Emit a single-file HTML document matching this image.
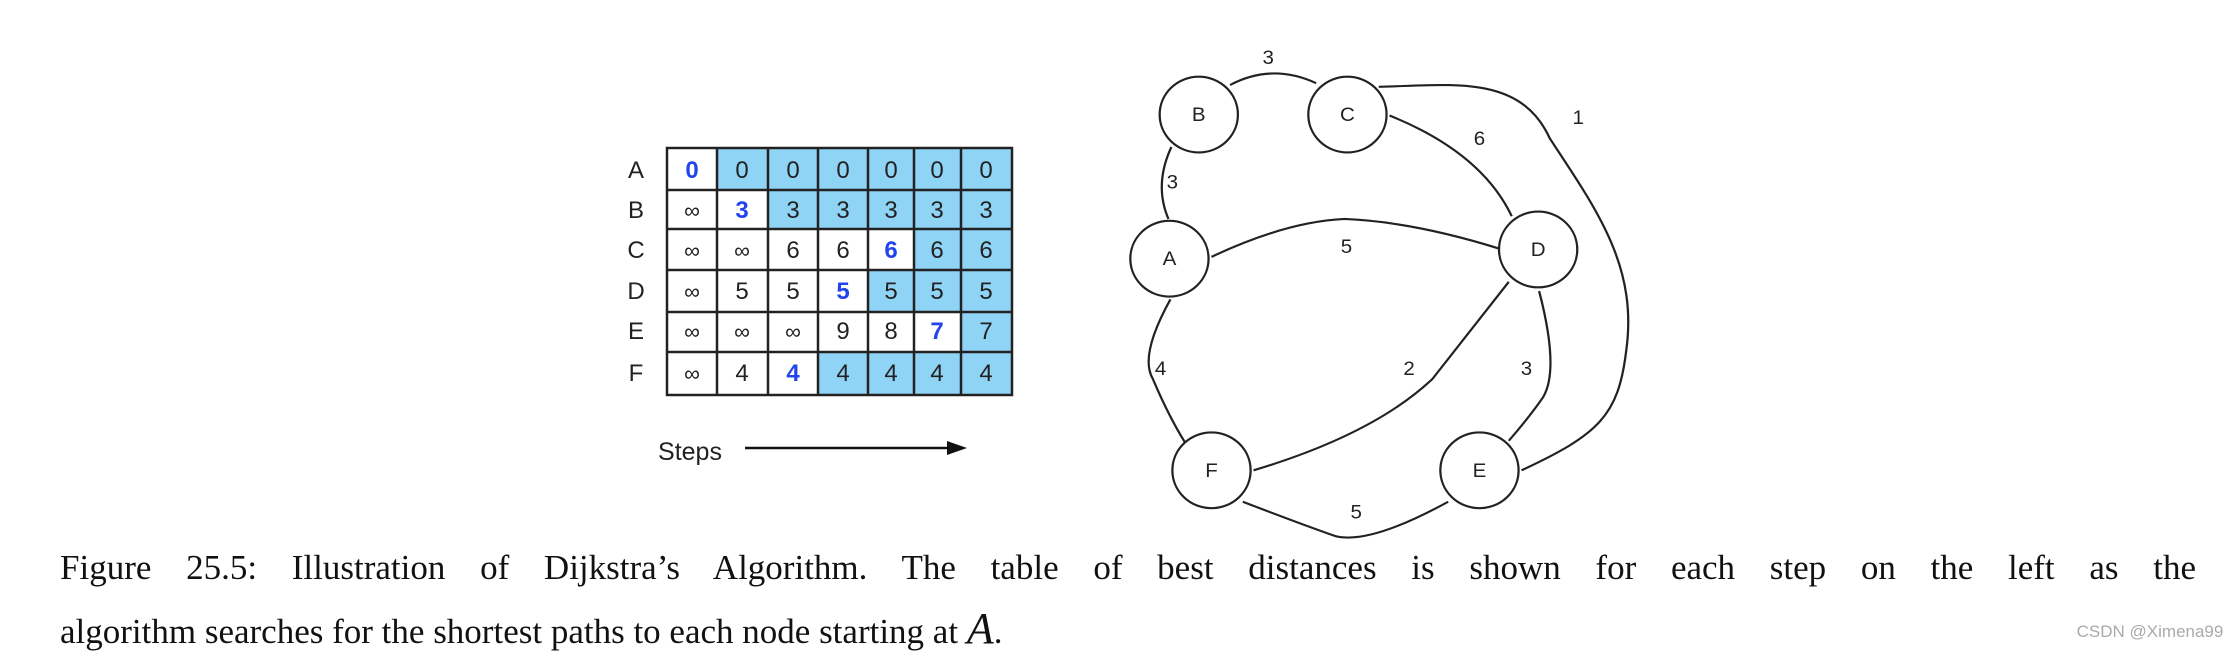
<!DOCTYPE html>
<html><head><style>
body{margin:0;background:#fff;width:2238px;height:660px;overflow:hidden;position:relative;font-family:"Liberation Sans",sans-serif}
.cap{position:absolute;left:60px;width:2136px;font-family:"Liberation Serif",serif;font-size:35px;color:#111;text-align:justify;text-align-last:justify;white-space:nowrap}
</style></head><body>
<svg width="2238" height="660" style="position:absolute;left:0;top:0" font-family="Liberation Sans, sans-serif">
<g fill="#8fd3f5">
<rect x="717" y="148" width="295" height="42"/>
<rect x="768" y="190" width="244" height="39"/>
<rect x="914" y="229" width="98" height="41"/>
<rect x="868" y="270" width="144" height="42"/>
<rect x="961" y="312" width="51" height="40"/>
<rect x="818" y="352" width="194" height="43"/>
</g>
<g stroke="#222" stroke-width="2.5" fill="none">
<rect x="667" y="148" width="345" height="247"/>
<path d="M717 148V395M768 148V395M818 148V395M868 148V395M914 148V395M961 148V395M667 190H1012M667 229H1012M667 270H1012M667 312H1012M667 352H1012"/>
</g>
<g font-size="24" text-anchor="middle" fill="#222">
<text x="636" y="178">A</text><text x="636" y="218">B</text><text x="636" y="258">C</text><text x="636" y="299">D</text><text x="636" y="339">E</text><text x="636" y="381">F</text>
</g>
<g font-size="24" text-anchor="middle" fill="#222" id="t"></g>
<text x="690" y="460" font-size="25" text-anchor="middle" fill="#222">Steps</text>
<line x1="745" y1="448" x2="950" y2="448" stroke="#111" stroke-width="2.5"/>
<polygon points="967,448 947,441 947,455" fill="#111"/>
<g transform="translate(24.2,0) scale(0.978,0.924)">
<g stroke="#222" stroke-width="2.3" fill="none">
<path d="M1233 92 Q1276 68 1321 90"/>
<path d="M1385 94 C1460 92 1530 80 1560 150 C1610 230 1650 290 1638 380 C1630 450 1610 470 1531 509"/>
<path d="M1396 125 Q1490 165 1521 234"/>
<path d="M1173 159 Q1155 200 1170 237"/>
<path d="M1214 278 Q1290 240 1350 237 Q1420 240 1508 269"/>
<path d="M1172 324 Q1140 385 1154 410 Q1170 450 1187 479"/>
<path d="M1518 305 Q1470 370 1440 410 Q1380 470 1257 509"/>
<path d="M1549 315 Q1570 400 1553 430 Q1540 450 1518 477"/>
<path d="M1246 543 Q1300 565 1340 580 Q1375 590 1456 543"/>
<ellipse cx="1201" cy="124" rx="40" ry="41" fill="#fff"/>
<ellipse cx="1353" cy="124" rx="40" ry="41" fill="#fff"/>
<ellipse cx="1171" cy="280" rx="40" ry="41" fill="#fff"/>
<ellipse cx="1548" cy="270" rx="40" ry="41" fill="#fff"/>
<ellipse cx="1214" cy="509" rx="40" ry="41" fill="#fff"/>
<ellipse cx="1488" cy="509" rx="40" ry="41" fill="#fff"/>
</g>
<g font-size="21" text-anchor="middle" fill="#222">
<text x="1201" y="131">B</text><text x="1353" y="131">C</text><text x="1171" y="287">A</text><text x="1548" y="277">D</text><text x="1214" y="516">F</text><text x="1488" y="516">E</text>
</g>
<g font-size="21" text-anchor="middle" fill="#222">
<text x="1272" y="69">3</text><text x="1589" y="134">1</text><text x="1488" y="157">6</text><text x="1174" y="204">3</text><text x="1352" y="274">5</text><text x="1162" y="406">4</text><text x="1416" y="406">2</text><text x="1536" y="406">3</text><text x="1362" y="561">5</text>
</g>
</g>
<text x="2150" y="637" font-size="17" text-anchor="middle" fill="#aaa">CSDN @Ximena99</text>
</svg>
<script>
var rows=[["0","0","0","0","0","0","0"],["∞","3","3","3","3","3","3"],["∞","∞","6","6","6","6","6"],["∞","5","5","5","5","5","5"],["∞","∞","∞","9","8","7","7"],["∞","4","4","4","4","4","4"]];
var blue=[0,1,4,3,5,2];
var cx=[692,742,793,843,891,937,986],ry=[178,218,258,299,339,381];
var g=document.getElementById("t"),s="";
rows.forEach(function(r,i){r.forEach(function(v,j){var b=blue[i]==j;s+='<text x="'+cx[j]+'" y="'+ry[i]+'"'+(b?' fill="#2244ee" font-weight="bold"':'')+(v=="∞"?' font-size="22"':'')+'>'+v+'</text>';});});
g.innerHTML=s;
</script>
<div class="cap" style="top:548px">Figure 25.5: Illustration of Dijkstra’s Algorithm. The table of best distances is shown for each step on the left as the</div>
<div class="cap" style="top:603px;text-align-last:left;width:auto">algorithm searches for the shortest paths to each node starting at <i style="font-size:44px">A</i>.</div>
</body></html>
